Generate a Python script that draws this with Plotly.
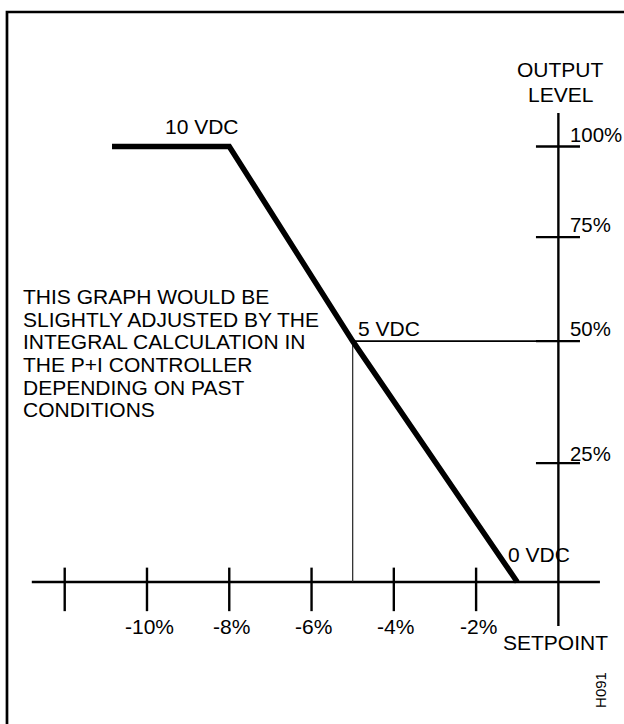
import plotly.graph_objects as go

# --- values -------------------------------------------------------------
# Deviation from setpoint (%) at which the output curve bends / ends
CURVE_DEVIATION = [-10.85, -8.0, -5.0, -1.0]
CURVE_LEVEL = [100, 100, 50, 0]          # output level (%) at those points
CURVE_VOLTS = ["10 VDC", "", "5 VDC", "0 VDC"]

# Horizontal (deviation) axis ticks
DEV_TICKS = [-12, -10, -8, -6, -4, -2]
DEV_LABELS = ["", "-10%", "-8%", "-6%", "-4%", "-2%"]

# Vertical (output level) axis ticks and the height each is drawn at
LEVEL_TICKS = [0, 25, 50, 75, 100]
LEVEL_LABELS = ["", "25%", "50%", "75%", "100%"]
LEVEL_DRAWN = [0, 27.3, 55.3, 79.2, 100]

NOTE_LINES = [
    "THIS GRAPH WOULD BE",
    "SLIGHTLY ADJUSTED BY THE",
    "INTEGRAL CALCULATION IN",
    "THE P+I CONTROLLER",
    "DEPENDING ON PAST",
    "CONDITIONS",
]

FONT = "Liberation Sans, Arial, Helvetica, sans-serif"
FS = 21
BLACK = "#000000"


def drawn(level):
    return LEVEL_DRAWN[LEVEL_TICKS.index(level)]


fig = go.Figure()


def seg(xs, ys, width, color=BLACK):
    fig.add_trace(go.Scatter(x=xs, y=ys, mode="lines",
                             line=dict(color=color, width=width),
                             hoverinfo="skip", showlegend=False))


# axes drawn as crossing lines
seg([-12.8, 1.01], [0, 0], 2.4)
seg([0, 0], [-10.1, 107.7], 2.4)

# deviation ticks
for d in DEV_TICKS:
    seg([d, d], [3.3, -6.7], 2.4)

# level ticks
for lv in LEVEL_TICKS[1:]:
    seg([-0.545, 0.525], [drawn(lv), drawn(lv)], 2.4)

# guide lines to the 5 VDC point
mid_dev = CURVE_DEVIATION[2]
mid_h = drawn(CURVE_LEVEL[2])
seg([mid_dev, 0], [mid_h, mid_h], 1.6)
seg([mid_dev, mid_dev], [0, mid_h], 1.2, "#222222")

# output curve
seg(CURVE_DEVIATION, [drawn(v) for v in CURVE_LEVEL], 5.5)


def note(x, y, text, xanchor="left", size=FS, angle=0):
    fig.add_annotation(x=x, y=y, text=text, showarrow=False,
                       xanchor=xanchor, yanchor="middle", borderpad=0,
                       textangle=angle,
                       font=dict(family=FONT, size=size, color=BLACK))


# voltage labels along the curve
note(-8.66, 104.5, CURVE_VOLTS[0], "center")
note(-4.9, 58.3, CURVE_VOLTS[2])
note(-1.25, 6.2, CURVE_VOLTS[3])

# deviation tick labels
for d, lab in zip(DEV_TICKS, DEV_LABELS):
    if lab:
        note(d + 0.05, -10.2, lab, "center")
note(-0.08, -14.0, "SETPOINT", "center")

# level tick labels
for lv, lab, dy in zip(LEVEL_TICKS, LEVEL_LABELS, [0, 2.2, 2.8, 2.7, 2.6]):
    if lab:
        note(0.26, drawn(lv) + dy, lab, size=20.4)

note(0.04, 117.6, "OUTPUT", "center")
note(0.04, 111.9, "LEVEL", "center")

# explanatory note
for i, line in enumerate(NOTE_LINES):
    note(-13.05, 65.6 - 5.22 * i, line)

note(1.035, -24.8, "H091", "center", size=15, angle=-90)

# frame (left and top edges)
fig.add_shape(type="path", xref="paper", yref="paper",
              path="M 0.0112,-0.02 L 0.0112,0.9834 L 1.02,0.9834",
              line=dict(color=BLACK, width=2.7))

fig.update_layout(
    width=624, height=724, autosize=False,
    margin=dict(l=0, r=0, t=0, b=0),
    paper_bgcolor="white", plot_bgcolor="white",
    xaxis=dict(range=[-13.573, 1.595], visible=False, fixedrange=True),
    yaxis=dict(range=[-32.61, 133.64], visible=False, fixedrange=True),
    showlegend=False,
)

fig.write_html("out.html", config={"displayModeBar": False})
